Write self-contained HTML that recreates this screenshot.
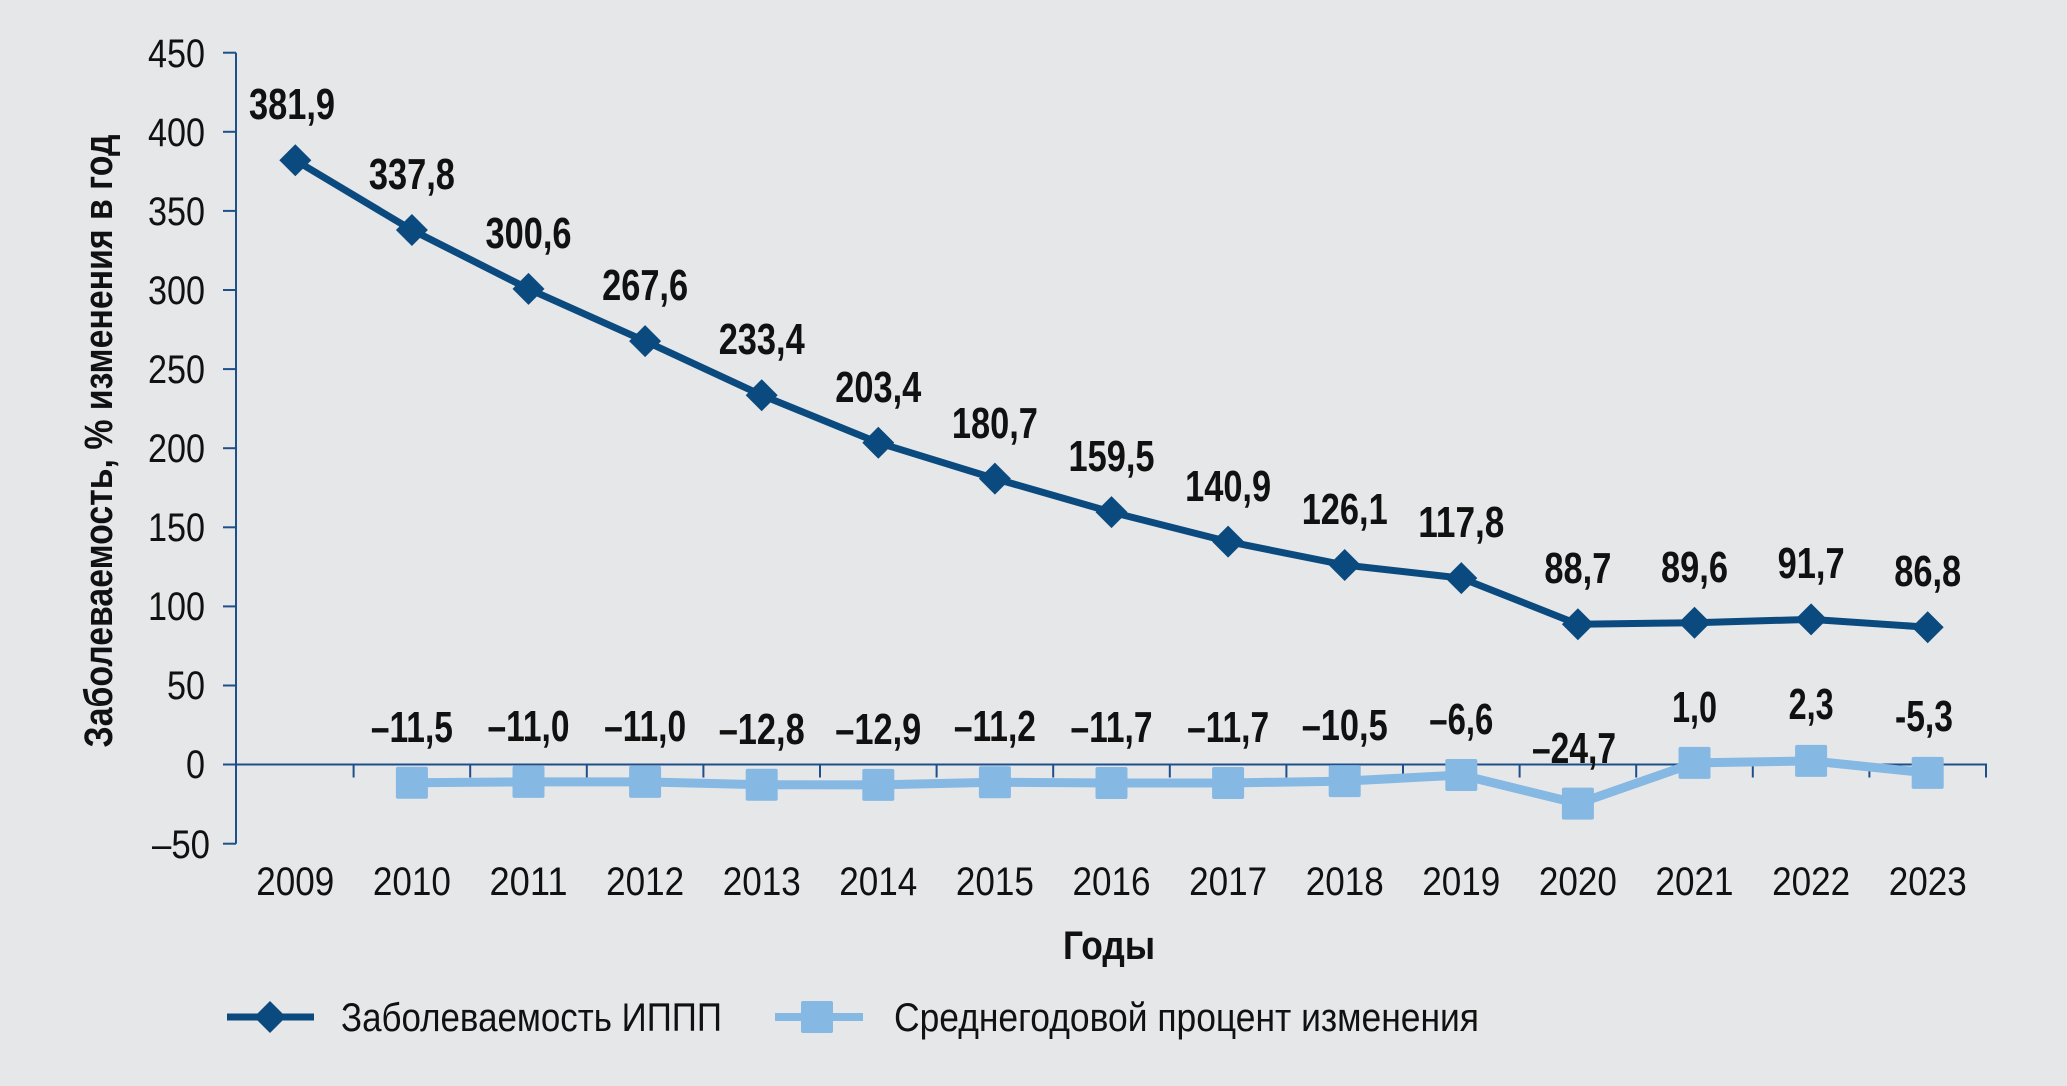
<!DOCTYPE html>
<html><head><meta charset="utf-8"><style>
html,body{margin:0;padding:0;background:#e6e7e9;}
svg{display:block;}
text{font-family:"Liberation Sans Narrow","Liberation Sans",sans-serif;fill:#111;}
.t{font-size:40px;}
.b{font-size:40px;font-weight:bold;}
.d{font-size:44px;font-weight:bold;}
</style></head><body>
<svg width="2067" height="1086" viewBox="0 0 2067 1086" xmlns="http://www.w3.org/2000/svg">
<rect width="2067" height="1086" fill="#e6e7e9"/>
<g stroke="#1f4f8a" stroke-width="2" fill="none">
<line x1="236" y1="52.7" x2="236" y2="843.7"/>
<line x1="236" y1="764.5" x2="1987" y2="764.5"/>
<line x1="223" y1="52.7" x2="236" y2="52.7"/>
<line x1="223" y1="131.8" x2="236" y2="131.8"/>
<line x1="223" y1="210.9" x2="236" y2="210.9"/>
<line x1="223" y1="290" x2="236" y2="290"/>
<line x1="223" y1="369.1" x2="236" y2="369.1"/>
<line x1="223" y1="448.2" x2="236" y2="448.2"/>
<line x1="223" y1="527.3" x2="236" y2="527.3"/>
<line x1="223" y1="606.4" x2="236" y2="606.4"/>
<line x1="223" y1="685.5" x2="236" y2="685.5"/>
<line x1="223" y1="764.5" x2="236" y2="764.5"/>
<line x1="223" y1="843.7" x2="236" y2="843.7"/>
<path d="M353.6 764.5v13M470.2 764.5v13M586.8 764.5v13M703.4 764.5v13M820 764.5v13M936.6 764.5v13M1053.2 764.5v13M1169.8 764.5v13M1286.4 764.5v13M1403 764.5v13M1519.6 764.5v13M1636.2 764.5v13M1752.8 764.5v13M1869.4 764.5v13M1986 764.5v13"/>
</g>
<g class="t" text-anchor="end">
<text x="205" y="67" textLength="57" lengthAdjust="spacingAndGlyphs">450</text>
<text x="205" y="146" textLength="57" lengthAdjust="spacingAndGlyphs">400</text>
<text x="205" y="225" textLength="57" lengthAdjust="spacingAndGlyphs">350</text>
<text x="205" y="304" textLength="57" lengthAdjust="spacingAndGlyphs">300</text>
<text x="205" y="383" textLength="57" lengthAdjust="spacingAndGlyphs">250</text>
<text x="205" y="462" textLength="57" lengthAdjust="spacingAndGlyphs">200</text>
<text x="205" y="541" textLength="57" lengthAdjust="spacingAndGlyphs">150</text>
<text x="205" y="620" textLength="57" lengthAdjust="spacingAndGlyphs">100</text>
<text x="205" y="699" textLength="38" lengthAdjust="spacingAndGlyphs">50</text>
<text x="205" y="778" textLength="19" lengthAdjust="spacingAndGlyphs">0</text>
<text x="210" y="858" textLength="58" lengthAdjust="spacingAndGlyphs">–50</text>
</g>
<g class="t" text-anchor="middle">
<text x="295.3" y="895" textLength="78" lengthAdjust="spacingAndGlyphs">2009</text>
<text x="411.9" y="895" textLength="78" lengthAdjust="spacingAndGlyphs">2010</text>
<text x="528.5" y="895" textLength="78" lengthAdjust="spacingAndGlyphs">2011</text>
<text x="645.1" y="895" textLength="78" lengthAdjust="spacingAndGlyphs">2012</text>
<text x="761.7" y="895" textLength="78" lengthAdjust="spacingAndGlyphs">2013</text>
<text x="878.3" y="895" textLength="78" lengthAdjust="spacingAndGlyphs">2014</text>
<text x="994.9" y="895" textLength="78" lengthAdjust="spacingAndGlyphs">2015</text>
<text x="1111.5" y="895" textLength="78" lengthAdjust="spacingAndGlyphs">2016</text>
<text x="1228.1" y="895" textLength="78" lengthAdjust="spacingAndGlyphs">2017</text>
<text x="1344.7" y="895" textLength="78" lengthAdjust="spacingAndGlyphs">2018</text>
<text x="1461.3" y="895" textLength="78" lengthAdjust="spacingAndGlyphs">2019</text>
<text x="1577.9" y="895" textLength="78" lengthAdjust="spacingAndGlyphs">2020</text>
<text x="1694.5" y="895" textLength="78" lengthAdjust="spacingAndGlyphs">2021</text>
<text x="1811.1" y="895" textLength="78" lengthAdjust="spacingAndGlyphs">2022</text>
<text x="1927.7" y="895" textLength="78" lengthAdjust="spacingAndGlyphs">2023</text>
</g>
<text class="b" x="1109" y="959" text-anchor="middle" textLength="92" lengthAdjust="spacingAndGlyphs">Годы</text>
<text class="b" transform="translate(112,441) rotate(-90)" text-anchor="middle" textLength="613" lengthAdjust="spacingAndGlyphs">Заболеваемость, % изменения в год</text>
<polyline fill="none" stroke="#85b8e3" stroke-width="9" stroke-linejoin="round" points="411.9,782.7 528.5,781.9 645.1,781.9 761.7,784.8 878.3,784.9 994.9,782.2 1111.5,783 1228.1,783 1344.7,781.1 1461.3,775 1577.9,803.6 1694.5,762.9 1811.1,760.9 1927.7,772.9"/>
<g fill="#85b8e3">
<rect x="395.9" y="766.7" width="32" height="32" rx="2"/>
<rect x="512.5" y="765.9" width="32" height="32" rx="2"/>
<rect x="629.1" y="765.9" width="32" height="32" rx="2"/>
<rect x="745.7" y="768.8" width="32" height="32" rx="2"/>
<rect x="862.3" y="768.9" width="32" height="32" rx="2"/>
<rect x="978.9" y="766.2" width="32" height="32" rx="2"/>
<rect x="1095.5" y="767" width="32" height="32" rx="2"/>
<rect x="1212.1" y="767" width="32" height="32" rx="2"/>
<rect x="1328.7" y="765.1" width="32" height="32" rx="2"/>
<rect x="1445.3" y="759" width="32" height="32" rx="2"/>
<rect x="1561.9" y="787.6" width="32" height="32" rx="2"/>
<rect x="1678.5" y="746.9" width="32" height="32" rx="2"/>
<rect x="1795.1" y="744.9" width="32" height="32" rx="2"/>
<rect x="1911.7" y="756.9" width="32" height="32" rx="2"/>
</g>
<polyline fill="none" stroke="#0b4a7e" stroke-width="7" stroke-linejoin="round" points="295.3,160.3 411.9,230 528.5,288.9 645.1,341.1 761.7,395.2 878.3,442.7 994.9,478.6 1111.5,512.1 1228.1,541.6 1344.7,565 1461.3,578.1 1577.9,624.2 1694.5,622.7 1811.1,619.4 1927.7,627.2"/>
<g fill="#0b4a7e">
<path d="M295.3 144.3l16 16-16 16-16-16z"/>
<path d="M411.9 214l16 16-16 16-16-16z"/>
<path d="M528.5 272.9l16 16-16 16-16-16z"/>
<path d="M645.1 325.1l16 16-16 16-16-16z"/>
<path d="M761.7 379.2l16 16-16 16-16-16z"/>
<path d="M878.3 426.7l16 16-16 16-16-16z"/>
<path d="M994.9 462.6l16 16-16 16-16-16z"/>
<path d="M1111.5 496.1l16 16-16 16-16-16z"/>
<path d="M1228.1 525.6l16 16-16 16-16-16z"/>
<path d="M1344.7 549l16 16-16 16-16-16z"/>
<path d="M1461.3 562.1l16 16-16 16-16-16z"/>
<path d="M1577.9 608.2l16 16-16 16-16-16z"/>
<path d="M1694.5 606.7l16 16-16 16-16-16z"/>
<path d="M1811.1 603.4l16 16-16 16-16-16z"/>
<path d="M1927.7 611.2l16 16-16 16-16-16z"/>
</g>
<g class="d" text-anchor="middle">
<text x="292" y="119" textLength="86" lengthAdjust="spacingAndGlyphs">381,9</text>
<text x="411.9" y="189" textLength="86" lengthAdjust="spacingAndGlyphs">337,8</text>
<text x="528.5" y="248" textLength="86" lengthAdjust="spacingAndGlyphs">300,6</text>
<text x="645.1" y="300" textLength="86" lengthAdjust="spacingAndGlyphs">267,6</text>
<text x="761.7" y="354" textLength="86" lengthAdjust="spacingAndGlyphs">233,4</text>
<text x="878.3" y="402" textLength="86" lengthAdjust="spacingAndGlyphs">203,4</text>
<text x="994.9" y="438" textLength="86" lengthAdjust="spacingAndGlyphs">180,7</text>
<text x="1111.5" y="471" textLength="86" lengthAdjust="spacingAndGlyphs">159,5</text>
<text x="1228.1" y="501" textLength="86" lengthAdjust="spacingAndGlyphs">140,9</text>
<text x="1344.7" y="524" textLength="86" lengthAdjust="spacingAndGlyphs">126,1</text>
<text x="1461.3" y="537" textLength="86" lengthAdjust="spacingAndGlyphs">117,8</text>
<text x="1577.9" y="583" textLength="67" lengthAdjust="spacingAndGlyphs">88,7</text>
<text x="1694.5" y="582" textLength="67" lengthAdjust="spacingAndGlyphs">89,6</text>
<text x="1811.1" y="578" textLength="67" lengthAdjust="spacingAndGlyphs">91,7</text>
<text x="1927.7" y="586" textLength="67" lengthAdjust="spacingAndGlyphs">86,8</text>
</g>
<g class="d" text-anchor="middle">
<text x="411.9" y="742" textLength="82" lengthAdjust="spacingAndGlyphs">–11,5</text>
<text x="528.5" y="741" textLength="82" lengthAdjust="spacingAndGlyphs">–11,0</text>
<text x="645.1" y="741" textLength="82" lengthAdjust="spacingAndGlyphs">–11,0</text>
<text x="761.7" y="744" textLength="86" lengthAdjust="spacingAndGlyphs">–12,8</text>
<text x="878.3" y="744" textLength="86" lengthAdjust="spacingAndGlyphs">–12,9</text>
<text x="994.9" y="741" textLength="82" lengthAdjust="spacingAndGlyphs">–11,2</text>
<text x="1111.5" y="742" textLength="82" lengthAdjust="spacingAndGlyphs">–11,7</text>
<text x="1228.1" y="742" textLength="82" lengthAdjust="spacingAndGlyphs">–11,7</text>
<text x="1344.7" y="740" textLength="86" lengthAdjust="spacingAndGlyphs">–10,5</text>
<text x="1461.3" y="734" textLength="64" lengthAdjust="spacingAndGlyphs">–6,6</text>
<text x="1574" y="763" textLength="84" lengthAdjust="spacingAndGlyphs">–24,7</text>
<text x="1694.5" y="722" textLength="45" lengthAdjust="spacingAndGlyphs">1,0</text>
<text x="1811.1" y="719" textLength="45" lengthAdjust="spacingAndGlyphs">2,3</text>
<text x="1924" y="731" textLength="58" lengthAdjust="spacingAndGlyphs">-5,3</text>
</g>
<line x1="227" y1="1017" x2="314" y2="1017" stroke="#0b4a7e" stroke-width="7"/>
<path d="M270 1001l16 16-16 16-16-16z" fill="#0b4a7e"/>
<text class="t" x="341" y="1031" textLength="381" lengthAdjust="spacingAndGlyphs">Заболеваемость ИППП</text>
<line x1="775" y1="1017" x2="863" y2="1017" stroke="#85b8e3" stroke-width="8"/>
<rect x="801" y="1001" width="32" height="32" rx="2" fill="#85b8e3"/>
<text class="t" x="894" y="1031" textLength="585" lengthAdjust="spacingAndGlyphs">Среднегодовой процент изменения</text>
</svg>
</body></html>
